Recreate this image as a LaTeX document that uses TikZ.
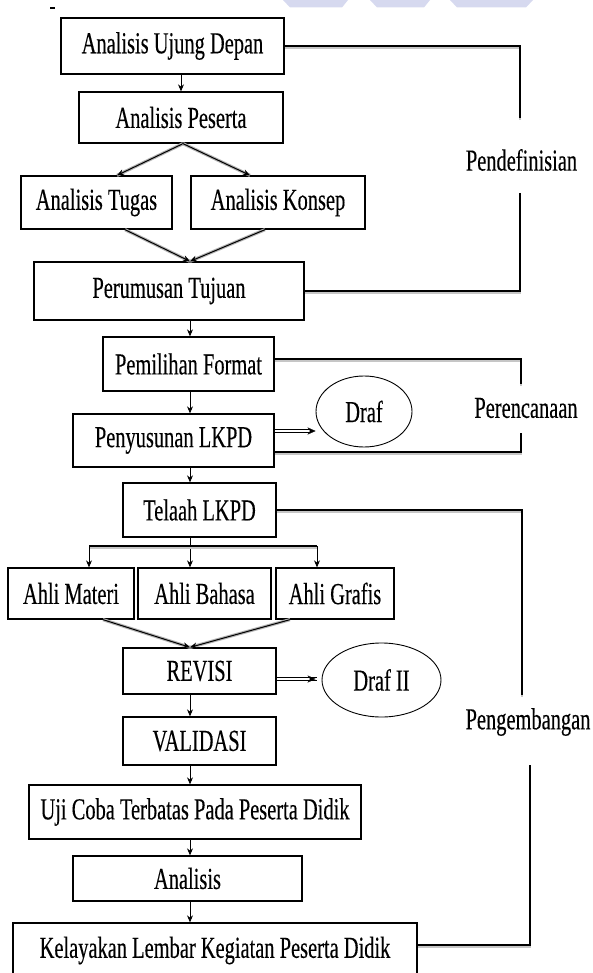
\documentclass[tikz,border=0pt]{standalone}
\usepackage{fontspec}
\setmainfont{Liberation Serif}[FakeStretch=0.67,FakeBold=0.3]
\usetikzlibrary{arrows.meta,shapes.geometric}
\definecolor{wmark}{HTML}{D6D9EF}
\tikzset{
  box/.style={draw, line width=1.3pt, inner sep=0pt, font=\fontsize{30.5}{33}\selectfont},
  oval/.style={ellipse, draw, line width=0.9pt, inner sep=0pt, font=\fontsize{30.5}{33}\selectfont},
  tag/.style={inner sep=0pt, font=\fontsize{30.5}{33}\selectfont},
  flow/.style={->, line width=0.9pt},
  slant/.style={->, line width=1pt, preaction={draw=gray!60, line width=3.2pt, -}},
  bracket/.style={line width=1.1pt, preaction={draw=gray!45, line width=1.6pt, transform canvas={yshift=-1.8pt}}},
  dbl/.style={white, line width=0.1pt, -{Stealth[length=8pt,width=7pt,black]},
    preaction={draw=black, line width=0.8pt, -, shorten >=5pt, transform canvas={yshift=1.3pt}},
    preaction={draw=black, line width=0.8pt, -, shorten >=5pt, transform canvas={yshift=-1.3pt}}}
}
\begin{document}
\begin{tikzpicture}[x=1pt,y=-1pt,>={Stealth[length=7pt,width=6pt]}]
    \useasboundingbox (0,0) rectangle (593,973);
    \fill[wmark] (283,0) -- (348,0) -- (342,7.5) -- (290,7.5) -- cycle;
    \fill[wmark] (370,0) -- (430,0) -- (424,7.5) -- (377,7.5) -- cycle;
    \fill[wmark] (450,0) -- (533,0) -- (526,7.5) -- (457,7.5) -- cycle;
    \fill (50,7) rectangle (55,9.5);

    \node[box, minimum width=223pt, minimum height=56pt] (ujung) at (172.5,46) {Analisis Ujung Depan};
    \node[box, minimum width=204pt, minimum height=51pt] (peserta) at (181,117.5) {Analisis Peserta};
    \node[box, minimum width=151pt, minimum height=53pt] (tugas) at (96.5,202.5) {Analisis Tugas};
    \node[box, minimum width=174pt, minimum height=53pt] (konsep) at (278,202.5) {Analisis Konsep};
    \node[box, minimum width=270pt, minimum height=58pt] (perumusan) at (169,291) {Perumusan Tujuan};
    \node[box, minimum width=171pt, minimum height=54pt] (pemilihan) at (188.5,364) {Pemilihan Format};
    \node[box, minimum width=201pt, minimum height=53pt] (penyusunan) at (173.5,440.5) {Penyusunan LKPD};
    \node[oval, minimum width=96pt, minimum height=71pt] (draf) at (364,411.5) {Draf};
    \node[box, minimum width=153pt, minimum height=54pt] (telaah) at (199.5,510) {Telaah LKPD};
    \node[box, minimum width=126pt, minimum height=51pt] (materi) at (71,593.5) {Ahli Materi};
    \node[box, minimum width=133pt, minimum height=51pt] (bahasa) at (204.5,593.5) {Ahli Bahasa};
    \node[box, minimum width=118pt, minimum height=51pt] (grafis) at (335,593.5) {Ahli Grafis};
    \node[box, minimum width=153pt, minimum height=46pt] (revisi) at (199.5,671) {REVISI};
    \node[oval, minimum width=119pt, minimum height=74pt] (draf2) at (381.5,680) {Draf II};
    \node[box, minimum width=153pt, minimum height=48pt] (validasi) at (199.5,741) {VALIDASI};
    \node[box, minimum width=332pt, minimum height=54pt] (uji) at (195,812) {Uji Coba Terbatas Pada Peserta Didik};
    \node[box, minimum width=229pt, minimum height=45pt] (analisis) at (187.5,878.5) {Analisis};
    \node[box, minimum width=404pt, minimum height=55pt] (kelayakan) at (215,950.5) {Kelayakan Lembar Kegiatan Peserta Didik};

    \node[tag] (pendef) at (521.5,160) {Pendefinisian};
    \node[tag] (rencana) at (526,408) {Perencanaan};
    \node[tag] (kembang) at (528,722) {Pengembangan};

    \coordinate (spine) at (190,0);
    \coordinate (d1) at (520,118);
    \coordinate (d2) at (520,193);
    \coordinate (r1) at (521,384);
    \coordinate (r2) at (521,433);
    \coordinate (g1) at (522,695);
    \coordinate (g2) at (530,765);
    \coordinate (bl) at (89,546);
    \coordinate (br) at (317,546);
    \coordinate (s1) at ([yshift=9.5pt]penyusunan.east);
    \coordinate (s2) at ([yshift=-8pt]revisi.east);

    \draw[flow] (peserta.north |- ujung.south) -- (peserta.north);
    \draw[slant] ([xshift=2pt]peserta.south) -- ([xshift=20.5pt]tugas.north);
    \draw[slant] ([xshift=2pt]peserta.south) -- ([xshift=-28pt]konsep.north);
    \draw[slant] ([xshift=28.5pt]tugas.south) -- (perumusan.north -| spine);
    \draw[slant] ([xshift=-13pt]konsep.south) -- (perumusan.north -| spine);
    \draw[flow] (perumusan.south -| spine) -- (pemilihan.north -| spine);
    \draw[flow] (pemilihan.south -| spine) -- (penyusunan.north -| spine);
    \draw[flow] (penyusunan.south -| spine) -- (telaah.north -| spine);
    \draw[dbl] (s1) -- (draf.west |- s1);

    \draw[flow] (telaah.south -| spine) -- (bahasa.north -| spine);
    \draw[bracket] (bl) -- (br);
    \draw[flow] (bl) -- (bl |- materi.north);
    \draw[flow] (br) -- (br |- grafis.north);
    \draw[slant] ([xshift=32pt]materi.south) -- (revisi.north -| spine);
    \draw[slant] ([xshift=-45pt]grafis.south) -- (revisi.north -| spine);
    \draw[dbl, shorten >=6pt] (s2) -- (draf2.west |- s2);
    \draw[flow] (revisi.south -| spine) -- (validasi.north -| spine);
    \draw[flow] (validasi.south -| spine) -- (uji.north -| spine);
    \draw[flow] (uji.south -| spine) -- (analisis.north -| spine);
    \draw[flow] (analisis.south -| spine) -- (kelayakan.north -| spine);

    \draw[bracket] (ujung.east) -| (d1);
    \draw[bracket] (d2) |- (perumusan.east);
    \draw[bracket] ([yshift=5pt]pemilihan.east) -| (r1);
    \draw[bracket] (r2) |- ([yshift=-11.5pt]penyusunan.east);
    \draw[bracket] (telaah.east) -| (g1);
    \draw[bracket] (g2) |- ([yshift=5.5pt]kelayakan.east);
\end{tikzpicture}
\end{document}
